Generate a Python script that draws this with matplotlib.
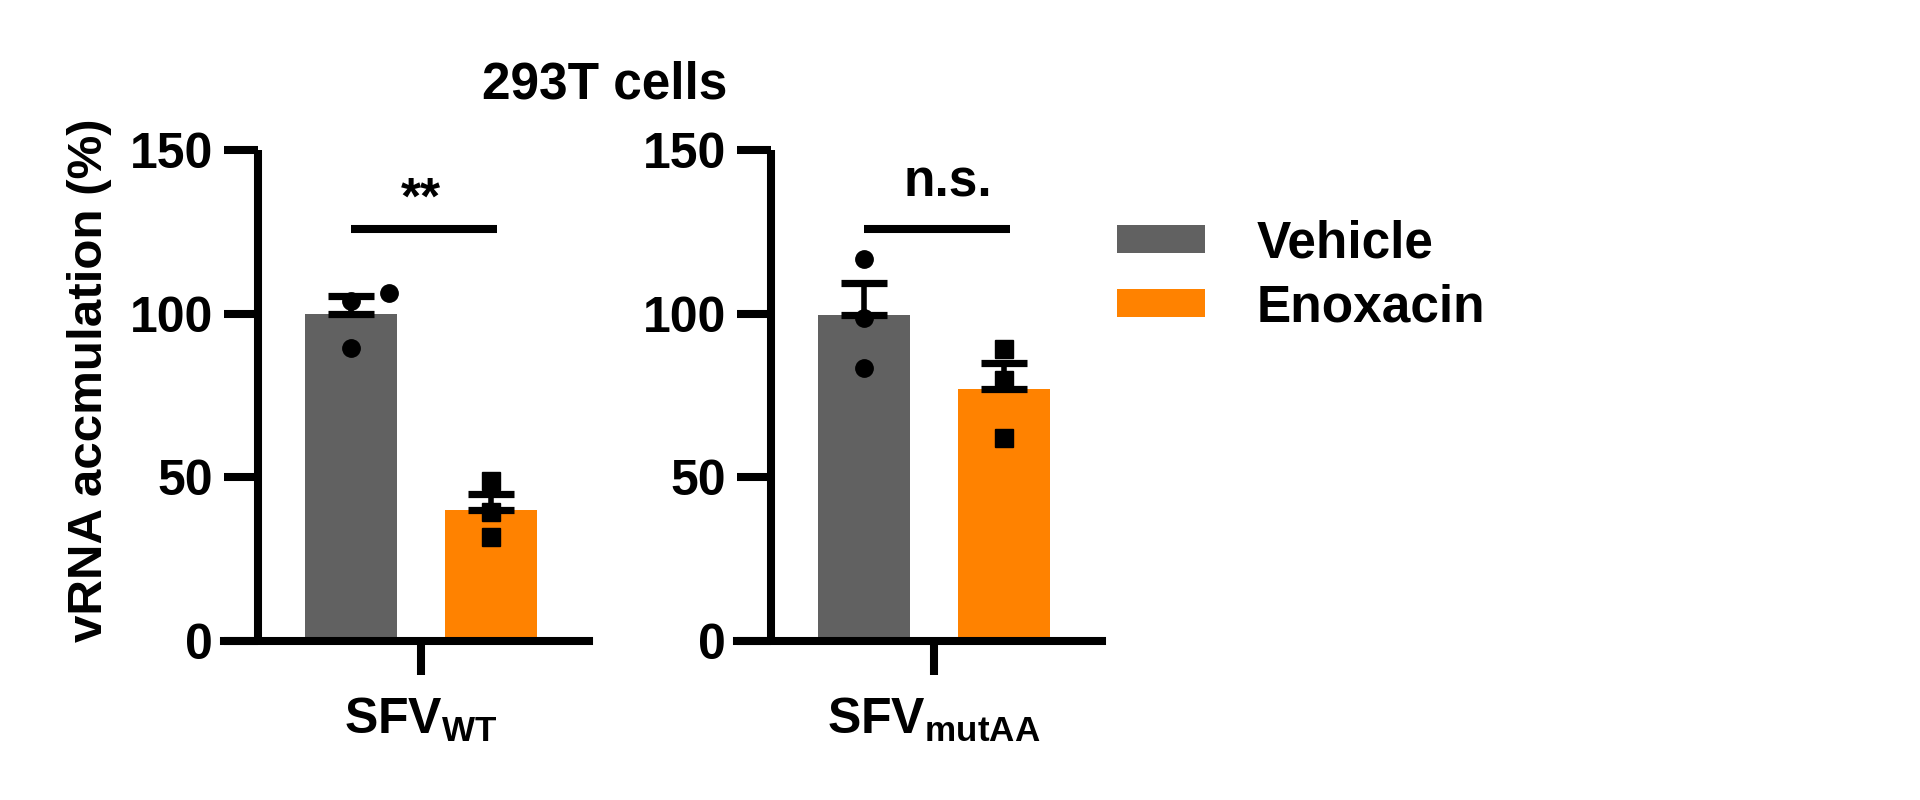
import numpy as np
import matplotlib
matplotlib.use("Agg")
import matplotlib.pyplot as plt
from matplotlib.patches import Patch

# ---------------- data ----------------
groups = ["SFV_WT", "SFV_mutAA"]
group_labels = [r"$\mathbf{SFV_{WT}}$", r"$\mathbf{SFV_{mutAA}}$"]
series_names = ["Vehicle", "Enoxacin"]
vehicle_points = [[106.4, 104.0, 89.6], [116.8, 98.8, 83.5]]
enoxacin_points = [[49.0, 39.3, 31.7], [89.3, 79.8, 61.9]]
significance = ["**", "n.s."]
yticks = [0, 50, 100, 150]
title = "293T cells"
ylabel = "vRNA accmulation (%)"

# ---------------- style ----------------
GRAY = "#616161"
ORANGE = "#FF8200"
LW = 5.8
FS = 36
plt.rcParams["font.family"] = ["Liberation Sans", "DejaVu Sans"]
plt.rcParams["font.weight"] = "bold"
plt.rcParams["mathtext.fontset"] = "custom"
plt.rcParams["mathtext.rm"] = "Liberation Sans:bold"
plt.rcParams["mathtext.bf"] = "Liberation Sans:bold"
plt.rcParams["mathtext.it"] = "Liberation Sans:bold"

W, H = 1920, 800
fig = plt.figure(figsize=(19.2, 8), dpi=100)

axes_left_px = [224, 737]
ax_w_px = 365
ax_bottom_px = 159
ax_h_px = 491
bar_offset = 0.5
bar_width = 0.66
vehicle_jitter = [[0.27, 0.0, 0.0], [0.0, 0.0, 0.0]]
enox_jitter = [[0.0, 0.0, 0.0], [0.0, 0.0, 0.0]]
sig_y = [126, 126]
sig_text_y = [130.5, 135.8]
sig_text_dx = [0.0, 0.1]

for i, g in enumerate(groups):
    ax = fig.add_axes([axes_left_px[i] / W, ax_bottom_px / H, ax_w_px / W, ax_h_px / H])
    ax.set_xlim(-1.407, 1.2)
    ax.set_ylim(0, 150)
    for sname, pts, color, jit, mk, ms in [
        ("Vehicle", vehicle_points[i], GRAY, vehicle_jitter[i], "o", 12.5),
        ("Enoxacin", enoxacin_points[i], ORANGE, enox_jitter[i], "s", 13),
    ]:
        x = -bar_offset if sname == "Vehicle" else bar_offset
        arr = np.array(pts)
        mean = arr.mean()
        sem = arr.std(ddof=1) / np.sqrt(len(arr))
        ax.bar([x], [mean], width=bar_width, color=color, zorder=2)
        ax.errorbar([x], [mean], yerr=[[0], [sem]], fmt="none", ecolor="black",
                    elinewidth=4, capsize=16.5, capthick=5.2, zorder=3, clip_on=False)
        ax.plot(x + np.array(jit), arr, linestyle="none", marker=mk, markersize=ms,
                color="black", zorder=4, clip_on=False)
    # significance bar
    ax.plot([-0.5, 0.54], [sig_y[i], sig_y[i]], color="black", lw=LW,
            solid_capstyle="butt", clip_on=False)
    ax.text(sig_text_dx[i], sig_text_y[i], significance[i], ha="center", va="baseline",
            fontsize=FS + 1, fontweight="bold")

    ax.spines["top"].set_visible(False)
    ax.spines["right"].set_visible(False)
    ax.spines["left"].set_position(("data", -1.164))
    ax.spines["left"].set_linewidth(LW)
    ax.spines["bottom"].set_linewidth(LW)
    ax.spines["left"].set_capstyle("butt")
    ax.set_yticks(yticks)
    ax.set_yticklabels([str(t) for t in yticks])
    ax.set_xticks([0])
    ax.set_xticklabels([group_labels[i]])
    ax.tick_params(axis="y", length=24.5, width=LW, pad=8, labelsize=FS)
    ax.tick_params(axis="x", length=24.5, width=LW, pad=15, labelsize=FS)
    for lab in ax.get_yticklabels():
        lab.set_fontweight("bold")
    ax.patch.set_visible(False)

fig.text(605 / W, 1 - 85 / H, title, ha="center", va="center", fontsize=37, fontweight="bold")
fig.text(90 / W, 1 - 380 / H, ylabel, ha="center", va="center", rotation=90,
         fontsize=35.5, fontweight="bold")

handles = [Patch(facecolor=GRAY, label=series_names[0]),
           Patch(facecolor=ORANGE, label=series_names[1])]
fig.legend(handles=handles, loc="upper left", bbox_to_anchor=(1117 / W, 1 - 219 / H),
           frameon=False, handlelength=1.71, handleheight=0.47,
           handletextpad=1.0, borderpad=0, borderaxespad=0, labelspacing=0.3,
           prop={"weight": "bold", "size": 37})

fig.savefig("out.png", dpi=100)
